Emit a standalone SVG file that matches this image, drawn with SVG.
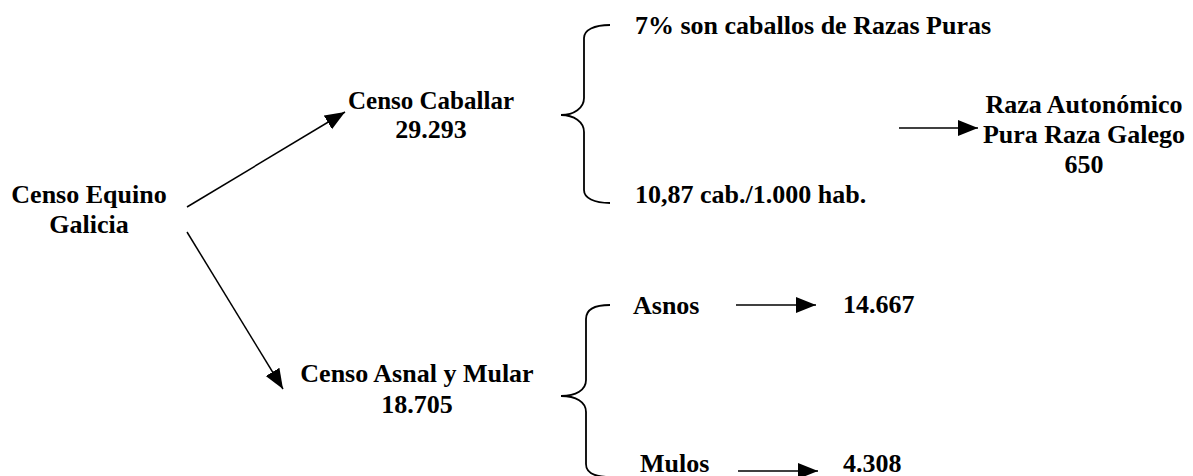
<svg xmlns="http://www.w3.org/2000/svg" width="1193" height="476" viewBox="0 0 1193 476">
<style>
text{font-family:"Liberation Serif","Times New Roman",serif;font-weight:bold;font-size:26px;fill:#000}
.c{text-anchor:middle}
.ln{stroke:#000;stroke-width:1.5;fill:none}
.br{stroke:#000;stroke-width:1.8;fill:none}
</style>
<defs>
<marker id="ah" markerUnits="userSpaceOnUse" markerWidth="22" markerHeight="18" refX="20" refY="8" orient="auto">
<path d="M0,0 L20,8 L0,16 Z" fill="#000"/>
</marker>
</defs>
<rect width="1193" height="476" fill="#fff"/>
<g id="connectors">
<line class="ln" x1="187" y1="207" x2="345" y2="112" marker-end="url(#ah)"/>
<line class="ln" x1="187" y1="232" x2="283" y2="389" marker-end="url(#ah)"/>
<line class="ln" x1="899" y1="128" x2="978" y2="128" marker-end="url(#ah)"/>
<line class="ln" x1="736" y1="305" x2="816" y2="305" marker-end="url(#ah)"/>
<line class="ln" x1="738" y1="471" x2="818" y2="471" marker-end="url(#ah)"/>
<path class="br" d="M610,25 C594,25 584,30 584,38 L584,98 C584,108 574,115 561,115 C574,115 584,122 584,132 L584,190 C584,198 594,203 610,203"/>
<path class="br" d="M610,305 C594,305 586,310 586,319 L586,380 C586,390 576,396 561,396 C576,396 586,402 586,412 L586,464 C586,472 594,477 610,477"/>
</g>
<g id="n-equino"><text class="c" x="89" y="203">Censo Equino</text><text class="c" x="89" y="233">Galicia</text></g>
<g id="n-caballar"><text class="c" x="431" y="109" style="font-size:25px">Censo Caballar</text><text class="c" x="431" y="138">29.293</text></g>
<g id="n-asnal"><text class="c" x="417" y="382">Censo Asnal y Mular</text><text class="c" x="417" y="413">18.705</text></g>
<g id="n-razas"><text x="635" y="34">7% son caballos de Razas Puras</text></g>
<g id="n-cab"><text x="635" y="203">10,87 cab./1.000 hab.</text></g>
<g id="n-autonomico"><text class="c" x="1084" y="113">Raza Autonómico</text><text class="c" x="1084" y="143">Pura Raza Galego</text><text class="c" x="1084" y="173">650</text></g>
<g id="n-asnos"><text x="633" y="314">Asnos</text></g>
<g id="n-14667"><text x="843" y="313">14.667</text></g>
<g id="n-mulos"><text x="640" y="472">Mulos</text></g>
<g id="n-4308"><text x="843" y="472">4.308</text></g>
</svg>
